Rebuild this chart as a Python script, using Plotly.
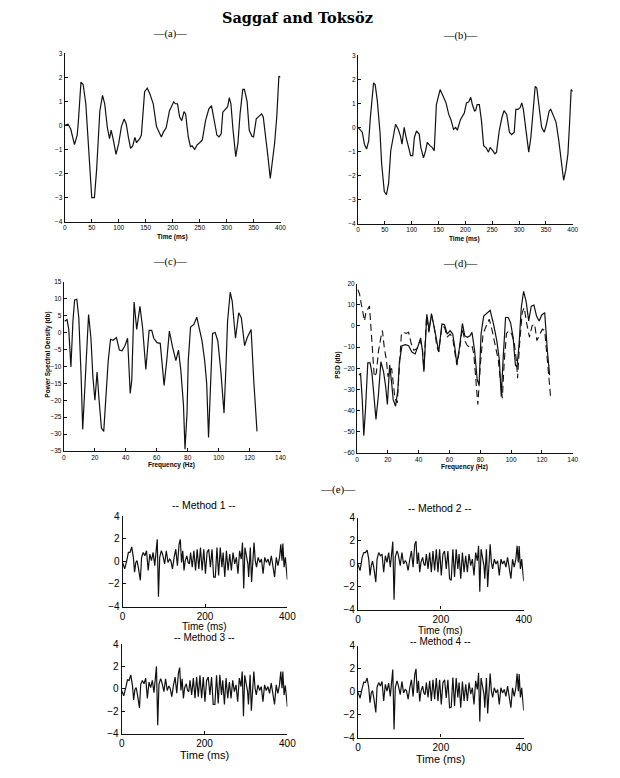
import plotly.graph_objects as go

W, H = 620, 778

# ---------------- data ----------------
a_time = [0, 6, 11, 15, 18, 23, 25, 30, 34, 39, 45, 50, 55, 59, 65, 70, 74, 79, 83, 86, 90, 95, 100, 105, 110, 114,
          118, 122, 126, 130, 133, 139, 142, 148, 153, 158, 164, 170, 179, 183, 188, 194, 202, 205, 209, 213, 217,
          221, 224, 229, 233, 236, 241, 245, 250, 255, 261, 267, 272, 276, 282, 286, 290, 293, 299, 302, 305, 308,
          312, 317, 321, 325, 330, 333, 338, 342, 347, 350, 355, 361, 365, 368, 373, 377, 381, 385, 389, 393, 397, 400]
a_amp = [0, 0.05, -0.15, -0.6, -0.8, -0.4, 0.1, 1.8, 1.7, 0.9, -1.15, -3.0, -3.0, -1.85, 0.6, 1.25, 0.9, -0.1,
         -0.55, -0.2, -0.6, -1.2, -0.75, -0.05, 0.27, 0.05, -0.5, -0.95, -0.85, -0.5, -0.72, -0.55, -0.4, 1.4, 1.55,
         1.3, 0.9, -0.05, -0.48, -0.27, -0.1, 0.6, 0.98, 0.9, 0.9, 0.35, 0.2, 0.57, 0.48, -0.48, -0.88, -0.85, -1.0,
         -0.82, -0.72, -0.6, 0.2, 0.68, 0.82, 0.35, -0.4, -0.48, -0.35, 0.55, 0.68, 0.78, 1.15, 0.9, -0.2, -1.3,
         -0.75, 0.48, 1.5, 1.5, 1.0, -0.2, -0.45, -0.48, 0.27, 0.4, 0.48, 0.35, -0.48, -1.36, -2.2, -1.57, -0.75,
         0.35, 2.05, 2.0]

b_time = [0, 4, 8, 12, 16, 20, 23, 29, 32, 36, 41, 44, 49, 53, 57, 61, 65, 70, 75, 79, 82, 86, 89, 94, 98, 102,
          105, 109, 114, 117, 122, 126, 129, 134, 138, 142, 146, 153, 158, 164, 169, 173, 178, 182, 185, 191, 198,
          202, 206, 210, 213, 217, 219, 222, 226, 230, 234, 239, 243, 246, 251, 255, 258, 263, 268, 272, 277, 282,
          286, 291, 294, 298, 302, 305, 308, 313, 318, 322, 326, 330, 333, 337, 342, 347, 351, 356, 359, 363, 369,
          374, 379, 383, 387, 391, 394, 397, 400]
b_amp = [0, -0.08, -0.2, -0.7, -0.9, -0.55, 0.4, 1.85, 1.78, 1.1, -0.2, -1.5, -2.67, -2.8, -2.33, -0.97, -0.42,
         0.13, -0.08, -0.35, -0.7, 0.0, -0.35, -0.83, -1.17, -1.17, -0.42, -0.15, -0.28, -0.83, -1.27, -0.97, -0.62,
         -0.76, -0.83, -0.97, 0.95, 1.57, 1.3, 1.02, 0.54, 0.33, -0.08, 0.0, -0.12, 0.33, 0.6, 1.02, 1.05, 1.25, 0.95,
         0.68, 0.7, 0.95, 0.95, 0.27, -0.76, -0.86, -1.03, -0.83, -0.97, -1.1, -1.03, -0.15, 0.4, 0.7, 0.54, -0.2,
         -0.3, -0.2, 0.75, 0.75, 0.82, 1.02, 0.75, -0.28, -1.03, -0.42, 0.68, 1.7, 1.64, 0.95, 0.0, -0.2, 0.13, 0.68,
         0.75, 0.54, 0.2, -0.55, -1.5, -2.2, -1.78, -1.1, 0.13, 1.57, 1.5]

c_freq = [0.6, 2.1, 3.2, 4.6, 5.9, 7.0, 8.4, 9.7, 11.2, 12.2, 13.3, 14.8, 16.0, 17.5, 18.8, 20.1, 21.5, 22.8, 24.3,
          25.8, 27.2, 28.7, 30.2, 31.9, 34.0, 35.9, 37.6, 39.5, 41.2, 42.9, 43.9, 45.4, 47.1, 49.2, 50.9, 53.0, 55.1,
          56.8, 58.1, 60.2, 62.3, 63.6, 64.8, 66.5, 68.2, 70.3, 72.4, 74.1, 75.6, 77.3, 78.3, 79.6, 80.4, 81.9, 84.0,
          85.9, 87.6, 89.3, 91.0, 92.3, 93.5, 94.8, 96.1, 97.8, 99.5, 101.4, 103.5, 104.7, 105.8, 107.5, 108.8, 110.9,
          113.0, 114.7, 116.8, 118.5, 121.0, 122.7, 124.8]
c_psd = [3.3, 3.8, 0.9, -10.2, 3.3, 9.6, 9.8, 4.3, -13.1, -28.6, -18.9, -5.4, 5.3, -1.5, -13.1, -20.0, -11.7, -20.0,
         -28.2, -29.2, -18.5, -8.3, -2.0, -2.3, -1.5, -5.2, -5.4, -3.9, -1.7, -18.0, -14.1, 9.0, 0.9, 7.7, 1.4, -10.9,
         0.6, 0.6, -1.7, -3.0, -3.2, -9.2, -15.6, -8.3, 0.4, -4.4, -8.3, -5.2, -11.2, -21.4, -34.5, -23.8, -8.3, 1.6,
         2.4, 4.5, 1.4, -2.5, -8.3, -15.0, -31.0, -13.1, -0.3, 0.0, -2.5, -11.2, -23.8, -10.7, 3.3, 11.9, 9.2, -1.7,
         5.8, 4.3, -3.9, -1.5, 0.9, -14.1, -29.2]

d_freq_solid = [1.3, 2.3, 3.4, 4.4, 5.5, 7.0, 8.5, 9.7, 11.2, 12.3, 13.8, 15.5, 17.2, 18.6, 19.7, 21.2, 22.5, 23.5,
                25.0, 26.5, 27.5, 29.2, 31.4, 33.5, 35.6, 37.7, 39.4, 41.3, 42.4, 43.4, 45.3, 46.8, 48.3, 49.6, 51.3,
                53.0, 55.1, 56.8, 58.5, 60.4, 62.1, 63.6, 64.8, 66.5, 68.4, 69.9, 71.6, 73.3, 74.6, 76.3, 78.0, 79.2,
                80.5, 82.2, 84.3, 86.4, 88.6, 90.7, 92.4, 93.6, 94.9, 96.4, 98.1, 99.6, 101.3, 102.8, 103.8, 105.1,
                106.6, 108.1, 109.7, 111.4, 113.1, 114.8, 116.5, 118.2, 119.9, 121.8, 123.5, 125.0]
d_psd_solid = [-23.2, -22.4, -34.8, -51.8, -39.4, -17.4, -17.4, -22.4, -34.8, -44.1, -33.3, -16.9, -21.6, -28.6,
               -37.1, -18.5, -27.1, -34.8, -37.9, -30.2, -16.9, -9.3, -8.8, -9.3, -12.3, -13.2, -10.0, -5.7, -11.5,
               -21.6, 5.5, -2.2, 5.9, 1.7, -5.3, -12.3, 0.9, 0.6, -3.8, -2.2, -3.8, -10.8, -18.1, -10.0, 1.2, -4.6,
               -5.3, -4.6, -3.0, -11.5, -25.5, -27.8, -3.8, 4.7, 5.9, 7.4, 0.9, -6.9, -16.2, -33.3, -14.6, 4.0, 4.0,
               1.7, -5.3, -18.5, -19.3, -9.3, 8.7, 16.4, 11.7, 2.4, 9.4, 9.9, 4.7, 2.4, 5.2, 6.3, -11.5, -23.2]

d_freq_dash = [0.6, 1.7, 2.8, 3.8, 4.9, 5.9, 7.0, 8.1, 9.1, 10.2, 11.2, 12.5, 14.0, 15.5, 16.5, 17.8, 19.1, 20.1,
               21.2, 22.5, 23.5, 24.6, 26.1, 27.5, 28.8, 30.3, 31.8, 33.5, 35.2, 36.9, 38.8, 40.9, 42.4, 43.4, 45.1,
               46.6, 48.3, 50.0, 51.7, 53.0, 55.1, 56.8, 58.5, 60.4, 62.1, 63.6, 64.8, 66.5, 68.4, 69.9, 71.6, 73.3,
               74.6, 75.8, 77.3, 78.4, 80.1, 81.8, 83.9, 85.8, 87.5, 89.6, 91.7, 93.2, 94.3, 95.6, 97.0, 98.7, 100.4,
               102.1, 103.4, 104.2, 105.5, 107.2, 108.5, 110.0, 111.9, 113.6, 115.3, 116.7, 118.2, 120.3, 121.8,
               123.3, 124.6, 125.6]
d_psd_dash = [17.2, 14.9, 10.2, 5.5, 2.4, 7.1, 7.9, 9.4, -2.2, -11.5, -24.0, -22.4, -11.5, -5.3, -2.2, -10.8, -16.2,
              -24.0, -20.8, -20.1, -27.1, -34.1, -36.4, -17.8, -3.8, -3.0, -3.5, -3.0, -8.4, -11.5, -10.8, -6.9,
              -10.0, -20.8, 4.7, -3.0, 5.3, 0.1, -9.3, -12.3, 0.1, -0.7, -5.3, -3.8, -5.7, -13.2, -18.5, -11.5, -1.0,
              -6.9, -9.3, -10.0, -9.3, -13.2, -28.6, -37.1, -17.8, -3.8, 0.1, 3.2, -1.5, -8.4, -16.2, -27.1, -34.1,
              -16.2, -3.5, -2.2, -3.8, -8.4, -16.2, -24.7, -8.4, 6.3, 8.7, 1.7, -5.3, 0.1, 0.9, -6.9, -4.6, -1.5,
              -2.2, -14.6, -27.1, -33.3]

e_time = [0, 5, 10, 14, 18, 22, 26, 29, 32, 35, 38, 43, 46, 50, 54, 58, 62, 66, 70, 74, 78, 81, 84, 87, 90, 94, 97,
          102, 106, 110, 114, 117, 121, 125, 129, 133, 137, 140, 143, 146, 149, 152, 156, 159, 162, 165, 169, 173,
          177, 181, 185, 189, 193, 197, 201, 205, 209, 213, 217, 221, 225, 229, 233, 237, 241, 244, 248, 252, 256,
          260, 264, 268, 272, 276, 280, 284, 288, 291, 294, 297, 300, 304, 306, 310, 313, 316, 319, 322, 325, 329,
          333, 337, 341, 345, 349, 353, 357, 361, 365, 369, 373, 377, 381, 384, 387, 389, 392, 395, 400]
method1 = [-0.10, -0.67, 0.06, 0.78, 0.78, 1.28, 0.35, -0.96, -0.10, 0.06, -0.52, -1.68, 0.35, 0.78, 0.49, 0.93,
           -0.81, 0.64, 0.06, 0.78, -0.38, 1.07, 1.94, -3.13, 0.35, 0.93, 0.64, -0.23, 0.93, -0.10, 0.20, 0.06,
           -0.67, 0.35, 1.07, -0.38, 1.50, 1.94, -0.10, 0.93, -0.81, 0.06, 0.49, -0.10, -0.23, 0.78, -0.52, 0.93,
           -0.81, 1.07, -0.67, 1.22, -0.81, 1.07, -1.10, 0.78, 1.07, -0.52, 1.07, -1.39, -1.39, 1.22, -1.25, 1.22,
           -0.52, 0.78, -1.39, 0.93, -0.81, 0.64, -0.81, 0.78, -0.23, 0.35, -1.10, 0.93, 0.20, 1.65, -2.40, 1.22,
           0.49, -0.23, -1.39, 1.22, -1.83, 0.49, 1.65, 0.06, -0.52, 0.35, -0.10, 0.20, -1.10, 0.35, -0.10, 0.20,
           -0.38, 0.49, -0.67, -1.39, 0.35, -0.38, 0.35, 1.50, 0.06, 1.57, -0.52, 0.35, -1.62]
method2 = [-0.05, -0.60, 0.55, 0.98, 0.98, 1.20, 0.40, -1.02, -0.16, 0.22, -0.30, -1.60, 0.40, 0.98, 0.70, 0.84,
           -0.73, 0.70, 0.12, 0.98, -0.30, 0.98, 1.93, -3.15, 0.56, 1.12, 0.84, -0.16, 0.98, -0.02, 0.26, 0.12,
           -0.59, 0.40, 1.12, -0.30, 1.70, 1.98, -0.02, 0.98, -0.73, 0.12, 0.56, -0.02, -0.16, 0.84, -0.45, 0.98,
           -0.73, 1.12, -0.59, 1.27, -0.73, 1.27, -1.02, 0.84, 1.12, -0.45, 1.12, -1.30, -1.45, 1.27, -1.16, 1.27,
           -0.45, 0.84, -1.30, 0.98, -0.73, 0.70, -0.73, 0.84, -0.16, 0.40, -1.02, 0.98, 0.26, 1.56, -2.45, 1.27,
           0.56, -0.16, -1.30, 1.27, -2.02, 0.56, 1.70, 0.12, -0.45, 0.40, -0.02, 0.26, -1.02, 0.40, -0.02, 0.26,
           -0.30, 0.56, -0.59, -1.30, 0.40, -0.30, 0.40, 1.56, 0.12, 1.56, -0.45, 0.40, -1.53]
method3 = [-0.15, -0.62, 0.10, 0.80, 0.75, 1.25, 0.30, -1.00, -0.05, 0.10, -0.50, -1.70, 0.40, 0.75, 0.45, 0.95,
           -0.85, 0.60, 0.10, 0.75, -0.35, 1.00, 2.00, -3.25, 0.40, 0.90, 0.60, -0.25, 0.90, -0.15, 0.25, 0.05,
           -0.70, 0.30, 1.05, -0.40, 1.40, 1.90, -0.15, 0.90, -0.85, 0.10, 0.45, -0.15, -0.25, 0.75, -0.55, 0.95,
           -0.85, 1.05, -0.70, 1.20, -0.85, 1.05, -1.15, 0.75, 1.05, -0.55, 1.05, -1.40, -1.40, 1.20, -1.30, 1.25,
           -0.55, 0.75, -1.40, 0.95, -0.85, 0.60, -0.85, 0.75, -0.25, 0.35, -1.15, 0.95, 0.20, 1.55, -2.45, 1.20,
           0.45, -0.25, -1.40, 1.25, -1.95, 0.45, 1.55, 0.05, -0.55, 0.35, -0.15, 0.20, -1.15, 0.35, -0.15, 0.20,
           -0.40, 0.50, -0.70, -1.40, 0.35, -0.40, 0.35, 1.55, 0.05, 1.55, -0.55, 0.30, -1.60]
method4 = [-0.05, -0.55, 0.30, 0.85, 0.80, 1.20, 0.35, -0.95, -0.10, 0.10, -0.50, -1.80, 0.40, 0.80, 0.50, 0.90,
           -0.80, 0.65, 0.05, 0.75, -0.40, 1.00, 1.95, -3.30, 0.35, 0.95, 0.60, -0.25, 0.90, -0.10, 0.20, 0.10,
           -0.65, 0.35, 1.05, -0.40, 1.50, 2.00, -0.10, 0.95, -0.85, 0.05, 0.50, -0.10, -0.25, 0.80, -0.50, 0.95,
           -0.80, 1.05, -0.65, 1.20, -0.80, 1.05, -1.10, 0.80, 1.05, -0.55, 1.05, -1.40, -1.35, 1.25, -1.25, 1.20,
           -0.50, 0.80, -1.40, 0.90, -0.80, 0.65, -0.80, 0.80, -0.20, 0.35, -1.10, 0.95, 0.20, 1.65, -2.60, 1.20,
           0.50, -0.20, -1.40, 1.20, -1.90, 0.50, 1.60, 0.05, -0.50, 0.35, -0.10, 0.20, -1.10, 0.35, -0.10, 0.20,
           -0.40, 0.50, -0.65, -1.40, 0.35, -0.40, 0.35, 1.60, 0.05, 1.55, -0.50, 0.35, -1.65]

# ---------------- layout helpers ----------------
def dx(x0, x1):
    return [x0 / W, x1 / W]

def dy(y0, y1):
    return [1 - y1 / H, 1 - y0 / H]

SMALL = dict(family="Liberation Sans, Arial, sans-serif", size=6.5, color="#000")
BIG = dict(family="Liberation Sans, Arial, sans-serif", size=10, color="#000")

def axis(domain, rng, dtick, anchor, font):
    return dict(domain=domain, range=rng, dtick=dtick, tick0=rng[0], anchor=anchor, showgrid=False,
                zeroline=False, showline=True, linecolor="#111", linewidth=1.1, mirror=False,
                ticks="inside", ticklen=3, tickcolor="#111", tickfont=font, tickmode="linear",
                fixedrange=True)

panels = [
    # (domain x px, domain y px, x range, x dtick, y range, y dtick, font)
    ((63, 283), (48, 219), [0, 400], 50, [-4, 3], 1, SMALL),
    ((362, 581), (50, 221), [0, 400], 50, [-4, 3], 1, SMALL),
    ((62, 283), (280, 452), [0, 140], 20, [-35, 15], 5, SMALL),
    ((361, 581), (282, 454), [0, 140], 20, [-60, 20], 10, SMALL),
    ((122, 290), (518, 610), [0, 400], 200, [-4, 4], 2, BIG),
    ((362, 531), (520, 613), [0, 400], 200, [-4, 4], 2, BIG),
    ((121, 290), (648, 739), [0, 400], 200, [-4, 4], 2, BIG),
    ((362, 531), (650, 743), [0, 400], 200, [-4, 4], 2, BIG),
]

fig = go.Figure()
layout = {}
for i, (px_, py_, xr, xd, yr, yd, font) in enumerate(panels, start=1):
    sfx = "" if i == 1 else str(i)
    layout["xaxis" + sfx] = axis(dx(*px_), xr, xd, "y" + sfx, font)
    layout["yaxis" + sfx] = axis(dy(*py_), yr, yd, "x" + sfx, font)

LINE = dict(color="#111", width=1.2)

def add(x, y, k, line=LINE):
    sfx = "" if k == 1 else str(k)
    fig.add_trace(go.Scatter(x=x, y=y, mode="lines", line=line, xaxis="x" + sfx, yaxis="y" + sfx,
                             showlegend=False, hoverinfo="skip"))

add(a_time, a_amp, 1)
add(b_time, b_amp, 2)
add(c_freq, c_psd, 3)
add(d_freq_solid, d_psd_solid, 4)
add(d_freq_dash, d_psd_dash, 4, dict(color="#111", width=1.1, dash="7px,4px"))
add(e_time, method1, 5)
add(e_time, method2, 6)
add(e_time, method3, 7)
add(e_time, method4, 8)

def ann(text, x, y, size, family="Liberation Sans, Arial, sans-serif", angle=0, bold=False):
    t = "<b>" + text + "</b>" if bold else text
    return dict(text=t, x=x / W, y=1 - y / H, xref="paper", yref="paper", showarrow=False,
                font=dict(family=family, size=size, color="#000"), textangle=angle,
                xanchor="center", yanchor="middle")

SERIF = "Liberation Serif, Times New Roman, serif"
annotations = [
    ann("Saggaf and Toksöz", 300, 12, 14.5, "DejaVu Serif, Liberation Serif, serif", bold=True),
    ann("—(a)—", 170, 28, 10.5, SERIF),
    ann("—(b)—", 467, 30, 10.5, SERIF),
    ann("—(c)—", 170, 260, 10.5, SERIF),
    ann("—(d)—", 467, 262, 10.5, SERIF),
    ann("—(e)—", 342, 491, 11, SERIF),
    ann("<b>Time (ms)</b>", 173, 235, 6.5),
    ann("<b>Time (ms)</b>", 471, 237, 6.5),
    ann("<b>Frequency (Hz)</b>", 172, 466, 6.5),
    ann("<b>Frequency (Hz)</b>", 471, 468, 6.5),
    ann("<b>Power Spectral Density (db)</b>", 45, 354, 6.5, angle=-90),
    ann("<b>PSD (db)</b>", 342, 365, 6.5, angle=-90),
    ann("-- Method 1 --", 205, 507, 10.5),
    ann("-- Method 2 --", 446, 510, 10.5),
    ann("-- Method 3 --", 205, 641, 10),
    ann("-- Method 4 --", 446, 645, 10),
    ann("Time (ms)", 205, 630, 10),
    ann("Time (ms)", 446, 634, 10),
    ann("Time (ms)", 205, 761, 11),
    ann("Time (ms)", 446, 765, 11),
]

fig.update_layout(width=W, height=H, margin=dict(l=0, r=0, t=0, b=0), paper_bgcolor="white",
                  plot_bgcolor="white", showlegend=False, annotations=annotations, **layout)

fig.write_html("out.html", config={"displayModeBar": False})
